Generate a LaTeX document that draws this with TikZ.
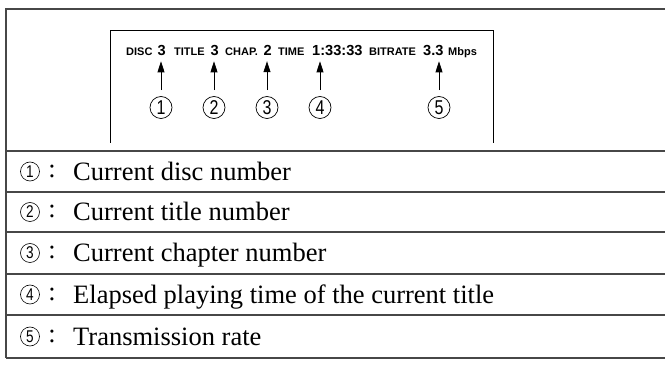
\documentclass[tikz,border=0pt]{standalone}
\usepackage{fontspec}
\setmainfont{Liberation Serif}
\newfontfamily\hdrfont{Liberation Sans}
\newfontfamily\numfont[FakeStretch=0.8]{Liberation Sans}
\usetikzlibrary{arrows.meta,shapes.geometric}
\begin{document}
\begin{tikzpicture}[x=1pt,y=-1pt,
 frame/.style={line width=1.3pt, draw=black!72},
 box/.style={line width=1pt, draw=black},
 small/.style={font=\hdrfont\bfseries\fontsize{11}{12}\selectfont, inner sep=0, anchor=base west},
 big/.style={font=\hdrfont\bfseries\fontsize{14.6}{16}\selectfont, inner sep=0, anchor=base west},
 callout/.style={circle, draw, line width=0.7pt, minimum size=22pt, inner sep=0, font=\numfont\fontsize{20}{20}\selectfont},
 pointer/.style={line width=0.8pt, -{Triangle[length=11pt,width=7pt]}},
 tnum/.style={circle, draw, line width=0.6pt, minimum size=19pt, inner sep=0, font=\numfont\fontsize{17}{17}\selectfont},
 colon/.style={font=\fontsize{26.5}{28}\selectfont, inner sep=0},
 desc/.style={font=\fontsize{26.5}{28}\selectfont, anchor=base west, inner sep=0}
]
\useasboundingbox (0,0) rectangle (665,366);
% outer frame
\coordinate (ftl) at (6,9);
\coordinate (ftr) at (665,9);
\coordinate (fbl) at (6,358);
\draw[frame] (ftr) -- (ftl) -- (fbl);
\foreach \yy in {151,192,232,274,315,358}{
  \draw[frame] (6,\yy) -- (665,\yy);
}
% inner display box
\coordinate (ibl) at (110,143);
\coordinate (itl) at (110,31);
\coordinate (itr) at (493,31);
\coordinate (ibr) at (493,143);
\draw[box] (ibl) -- (itl) -- (itr) -- (ibr);
% display text
\node[small] (w1) at (126,56) {DISC};
\node[big]   (t1) at (157.5,56) {3};
\node[small] (w2) at (174,56) {TITLE};
\node[big]   (t2) at (210.5,56) {3};
\node[small] (w3) at (225,56) {CHAP.};
\node[big]   (t3) at (263.5,56) {2};
\node[small] (w4) at (278,56) {TIME};
\node[big]   (t4) at (312,56) {1:33:33};
\node[small] (w5) at (369,56) {BITRATE};
\node[big]   (t5) at (423,56) {3.3};
\node[small] (w6) at (448,56) {Mbps};
% callouts
\node[callout] (c1) at (161,107.5) {1};
\node[callout] (c2) at (214,107.5) {2};
\node[callout] (c3) at (267,107.5) {3};
\node[callout] (c4) at (320,107.5) {4};
\node[callout] (c5) at (439,107.5) {5};
\foreach \i in {1,...,5}{
  \draw[pointer] (c\i.north) ++(0,-6) -- ([yshift=-5pt]c\i.north |- t\i.south);
}
% table rows
\node[tnum] (r1) at (30,171.5) {1};
\node[colon] (k1) at (52,171) {:};
\node[desc] (d1) at (73,180.5) {Current disc number};
\node[tnum] (r2) at (30,212) {2};
\node[colon] (k2) at (52,211.5) {:};
\node[desc] (d2) at (73,221) {Current title number};
\node[tnum] (r3) at (30,253) {3};
\node[colon] (k3) at (52,252.5) {:};
\node[desc] (d3) at (73,262) {Current chapter number};
\node[tnum] (r4) at (30,294.5) {4};
\node[colon] (k4) at (52,294) {:};
\node[desc] (d4) at (73,303.5) {Elapsed playing time of the current title};
\node[tnum] (r5) at (30,336.5) {5};
\node[colon] (k5) at (52,336) {:};
\node[desc] (d5) at (73,345.5) {Transmission rate};
\end{tikzpicture}
\end{document}
